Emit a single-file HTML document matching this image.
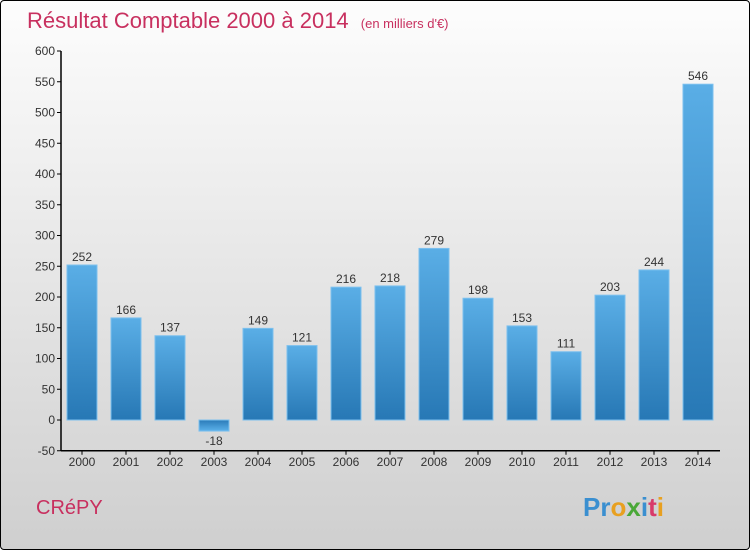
<!DOCTYPE html>
<html><head><meta charset="utf-8"><style>
body{margin:0;width:750px;height:550px;overflow:hidden;font-family:"Liberation Sans",sans-serif}
#wrap{position:absolute;left:0;top:0;width:748px;height:548px;border:1px solid #000;border-radius:4px;background:linear-gradient(#fdfdfd,#cfcfcf)}
</style></head><body>
<div id="wrap">
<svg width="750" height="550" style="position:absolute;left:-1px;top:-1px">
<defs><linearGradient id="bg" x1="0" y1="0" x2="0" y2="1"><stop offset="0" stop-color="#5aaee6"/><stop offset="1" stop-color="#2778b5"/></linearGradient>
<linearGradient id="bgn" x1="0" y1="0" x2="0" y2="1"><stop offset="0" stop-color="#2a7bb8"/><stop offset="1" stop-color="#5cb1ea"/></linearGradient></defs>
<text x="27" y="28" font-size="22" fill="#c8305f">Résultat Comptable 2000 à 2014 <tspan font-size="13" dx="6">(en milliers d'€)</tspan></text>
<g id="axes"></g><g id="bars"></g>
<text x="36" y="514" font-size="20" fill="#c8305f">CRéPY</text>
<text x="583" y="516" font-size="26" font-weight="bold"><tspan fill="#3a8fd0">Pr</tspan><tspan fill="#e8a020">o</tspan><tspan fill="#4aa838">x</tspan><tspan fill="#3a8fd0">i</tspan><tspan fill="#d83a6a">t</tspan><tspan fill="#e8a020">i</tspan></text>
</svg></div>
<script>
const years=["2000","2001","2002","2003","2004","2005","2006","2007","2008","2009","2010","2011","2012","2013","2014"];
const values=[252,166,137,-18,149,121,216,218,279,198,153,111,203,244,546];
const ticks=[-50,0,50,100,150,200,250,300,350,400,450,500,550,600];
const NS="http://www.w3.org/2000/svg";
const y=v=>420-v*(369/600);
const x=i=>82+i*44;
function mk(p,t,a){const e=document.createElementNS(NS,t);for(const k in a)e.setAttribute(k,a[k]);p.appendChild(e);return e;}
const ax=document.getElementById('axes'),bs=document.getElementById('bars');
const yl=mk(ax,'line',{x1:61,x2:61,y1:y(600),y2:y(-50),stroke:'#000','stroke-width':1.5});


const xl=mk(ax,'line',{x1:61,x2:720,y1:y(-50),y2:y(-50),stroke:'#000','stroke-width':1.5});


ticks.forEach(t=>{
 mk(ax,'line',{x1:57,x2:61,y1:y(t),y2:y(t),stroke:'#000'});
 const tx=mk(ax,'text',{x:55,y:y(t)+4,'font-size':12,'text-anchor':'end',fill:'#333'});
 tx.textContent=t;
 
 
});
years.forEach((yr,i)=>{
 mk(ax,'line',{x1:x(i),x2:x(i),y1:y(-50),y2:y(-50)+4,stroke:'#000'});
 const tx=mk(ax,'text',{x:x(i),y:466,'font-size':12,'text-anchor':'middle',fill:'#333'});
 tx.textContent=yr;
 
 
 const v=values[i],top=Math.min(y(v),y(0)),h=Math.abs(y(v)-y(0));
 const r=mk(bs,'rect',{x:x(i)-15,y:top,width:30,height:h,fill:v<0?'url(#bgn)':'url(#bg)',stroke:'#7cc0ee','stroke-width':1});
 
 
 const lb=mk(bs,'text',{x:x(i),y:v<0?y(v)+14:y(v)-4,'font-size':12,'text-anchor':'middle',fill:'#333'});
 lb.textContent=v;
 
 
});
</script>
</body></html>
